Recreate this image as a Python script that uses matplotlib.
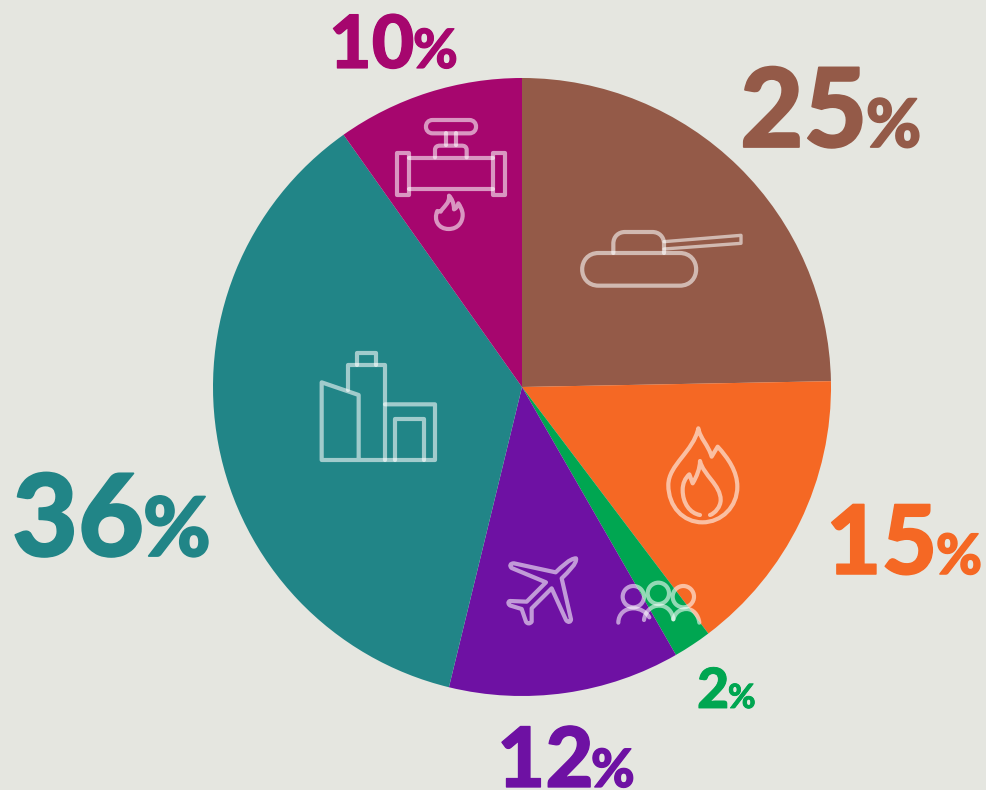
#!/usr/bin/env python3
"""Pie chart of six shares with outline icons on the slices."""

import re

import matplotlib
matplotlib.use("Agg")
import matplotlib.patheffects as pe
import matplotlib.pyplot as plt
from matplotlib.patches import Circle, PathPatch
from matplotlib.path import Path

WIDTH = 986
HEIGHT = 790
BACKGROUND = "#E5E6E0"

shares = [24.7, 15.0, 2.0, 12.1, 36.4, 9.8]
share_labels = ["25", "15", "2", "12", "36", "10"]
colors = ["#945A48", "#F56824", "#00A651", "#6E11A3", "#218587", "#A6066E"]

# digit left, percent left, baseline (pixels), digit size, percent size (points)
LABEL_STYLE = [
    (740, 866, 147, 79, 48),
    (826, 936, 574, 69, 40),
    (697, 728, 708, 40, 24),
    (497, 591, 787, 60, 38),
    (12, 143, 556, 82, 59),
    (329, 413, 68, 53, 39),
]

STROKE = 3.0
ICON_COLOR = (1, 1, 1, 0.58)

COMMAND = {"M": (Path.MOVETO, 1), "L": (Path.LINETO, 1), "C": (Path.CURVE4, 3), "Q": (Path.CURVE3, 2)}


def parse_path(text, x0, y0):
    """Small SVG-like parser; coordinates are 3x crops with their origin at x0, y0."""
    verts, codes = [], []
    tokens = re.findall(r"[MLCQZ]|-?[\d.]+", text)
    i = 0
    while i < len(tokens):
        cmd = tokens[i]
        i += 1
        if cmd == "Z":
            verts.append((0, 0))
            codes.append(Path.CLOSEPOLY)
            continue
        code, count = COMMAND[cmd]
        for _ in range(count):
            x, y = float(tokens[i]), float(tokens[i + 1])
            i += 2
            verts.append((x0 + x / 3, HEIGHT - (y0 + y / 3)))
            codes.append(code)
    return Path(verts, codes)


def draw_icon(ax, text, x0, y0, lw=STROKE):
    ax.add_patch(PathPatch(parse_path(text, x0, y0), fill=False, edgecolor=ICON_COLOR,
                           linewidth=lw, capstyle="round", joinstyle="round", zorder=3))


def draw_head(ax, cx, cy, r, x0, y0):
    ax.add_patch(Circle((x0 + cx / 3, HEIGHT - (y0 + cy / 3)), r / 3, fill=False,
                        edgecolor=ICON_COLOR, linewidth=STROKE, zorder=3))


def main():
    fig = plt.figure(figsize=(WIDTH / 100, HEIGHT / 100), dpi=100, facecolor=BACKGROUND)
    ax = fig.add_axes([0, 0, 1, 1])
    ax.pie(shares, colors=colors, startangle=90, counterclock=False,
           center=(522, HEIGHT - 387), radius=309)
    ax.set_xlim(0, WIDTH)
    ax.set_ylim(0, HEIGHT)
    ax.axis("off")

    for label, color, (left, pct_left, base, size, pct_size) in zip(share_labels, colors, LABEL_STYLE):
        heavier = [pe.withStroke(linewidth=size * 0.016, foreground=color)]
        ax.text(left, HEIGHT - base, label, color=color, fontsize=size, ha="left",
                va="baseline", family="Lato", weight="black", path_effects=heavier)
        ax.text(pct_left, HEIGHT - base, "%", color=color, fontsize=pct_size, ha="left",
                va="baseline", family="Lato", weight="black", path_effects=heavier)

    # pipe with flame
    pipe = (380, 100)
    draw_icon(ax, "M 158 60 L 268 60 C 295 60 295 100 268 100 L 158 100 C 131 100 131 60 158 60 Z", *pipe)
    draw_icon(ax, "M 197 100 L 197 135 M 227 100 L 227 135", *pipe)
    draw_icon(ax, "M 165 172 L 165 150 C 165 140 172 137 180 137 L 245 137 C 253 137 260 140 260 150 L 260 172", *pipe)
    draw_icon(ax, "M 50 160 L 88 160 L 88 284 L 50 284 Z", *pipe)
    draw_icon(ax, "M 338 160 L 374 160 L 374 284 L 338 284 Z", *pipe)
    draw_icon(ax, "M 88 175 L 338 175 M 88 266 L 338 266", *pipe)
    draw_icon(ax, "M 207 287 C 210 310 190 320 182 335 L 172 333 C 160 360 175 387 206 387 "
                  "C 235 387 248 365 248 345 C 248 330 240 318 235 310 C 232 320 228 325 222 328 "
                  "C 222 310 215 295 207 287 Z", *pipe)

    # tank
    draw_icon(ax, "M 656 459 L 899 459 C 965 459 965 557 899 557 L 656 557 C 590 557 590 459 656 459 Z", *pipe)
    draw_icon(ax, "M 700 459 L 700 431 C 700 410 715 396 735 396 L 817 396 C 837 396 852 410 852 431 L 852 459", *pipe)
    draw_icon(ax, "M 852 425 L 1083 406 L 1083 430 L 852 447", *pipe, lw=2.4)

    # buildings
    town = (300, 340)
    draw_icon(ax, "M 176 360 L 176 165 L 65 127 L 65 360 L 405 360 L 405 193 L 255 193", *town)
    draw_icon(ax, "M 145 150 L 145 75 L 255 75 L 255 360", *town)
    draw_icon(ax, "M 172 75 L 172 38 L 228 38 L 228 75", *town)
    draw_icon(ax, "M 284 360 L 284 237 L 372 237 L 372 360", *town)

    # plane and people
    low = (490, 540)
    draw_icon(ax, "M 258 55 C 240 55 215 80 197 97 L 72 70 C 60 70 58 78 65 84 L 168 127 L 110 185 "
                  "L 60 183 C 52 185 55 195 62 197 L 95 207 L 108 245 C 112 252 120 252 125 245 "
                  "L 125 205 L 185 145 L 228 240 C 235 250 243 245 243 238 L 215 115 "
                  "C 235 95 262 70 258 55 Z", *low)
    draw_head(ax, 430, 170, 32, *low)
    draw_head(ax, 505, 160, 32, *low)
    draw_head(ax, 580, 170, 32, *low)
    draw_icon(ax, "M 385 248 C 385 222 405 205 430 205 C 450 205 468 215 478 232", *low)
    draw_icon(ax, "M 462 240 C 465 215 485 195 510 197 C 530 197 548 215 550 238", *low)
    draw_icon(ax, "M 550 238 C 555 218 570 207 590 207 C 610 207 625 225 628 248", *low)

    # fire
    fire = (650, 415)
    draw_icon(ax, "M 145 40 C 150 70 175 90 185 125 L 203 95 C 235 130 262 170 262 215 "
                  "C 262 275 215 322 157 322 C 100 322 55 275 55 210 C 55 150 130 110 145 40 Z", *fire)
    draw_icon(ax, "M 150 300 C 120 295 98 265 98 225 C 98 205 105 190 118 178 L 128 205 "
                  "C 140 185 150 160 150 138 C 160 180 212 210 212 255 C 212 275 195 295 180 300", *fire)

    fig.savefig("out.png", dpi=100, facecolor=BACKGROUND)


if __name__ == "__main__":
    main()
